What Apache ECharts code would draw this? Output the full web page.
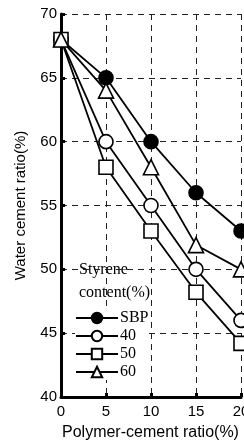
<!DOCTYPE html>
<html>
<head>
<meta charset="utf-8">
<script src="https://cdn.jsdelivr.net/npm/echarts@6/dist/echarts.min.js"></script>
<style>
  html, body { margin: 0; padding: 0; background: #fff; }
  #chart { width: 244px; height: 447px; }
</style>
</head>
<body>
<div id="chart"></div>
<script>
// polymer-cement ratio (%)
const ratios = [0, 5, 10, 15, 20];
const sbp = [68, 65, 60, 56, 53];
const s40 = [68, 60, 55, 50, 46];
const s50 = [68, 58, 53, 48.2, 44.2];
const s60 = [68, 64, 58, 51.9, 50];
const yTicks = [40, 45, 50, 55, 60, 65, 70];

function mkSeries(name, vals, symbol, fill) {
  return {
    name: name,
    type: "line",
    data: ratios.map((x, i) => [x, vals[i]]),
    symbol: symbol,
    symbolSize: symbol === "triangle" ? 15 : 14,
    lineStyle: { color: "#000", width: 1.8 },
    itemStyle: { color: fill, borderColor: "#000", borderWidth: 1.6 },
    z: 3
  };
}

const chart = echarts.init(document.getElementById("chart"));
chart.setOption({
  backgroundColor: "#fff",
  animation: false,
  grid: { left: 61, top: 14, right: 3, bottom: 50, outerBoundsMode: "none", containLabel: false },
  xAxis: {
    type: "value",
    min: ratios[0],
    max: ratios[ratios.length - 1],
    interval: 5,
    axisLine: { lineStyle: { color: "#000", width: 3 } },
    axisTick: { inside: true, length: 4, lineStyle: { color: "#000", width: 3 } },
    axisLabel: { color: "#000", fontFamily: "Liberation Sans", fontSize: 15, margin: 7 },
    splitLine: { show: true, lineStyle: { color: "#222", type: [6, 5], width: 1 } }
  },
  yAxis: {
    type: "value",
    min: yTicks[0],
    max: yTicks[yTicks.length - 1],
    interval: 5,
    axisLine: { show: true, lineStyle: { color: "#000", width: 3 } },
    axisTick: { show: true, inside: true, length: 4, lineStyle: { color: "#000", width: 3 } },
    axisLabel: { color: "#000", fontFamily: "Liberation Sans", fontSize: 15, margin: 4 },
    splitLine: { show: true, lineStyle: { color: "#222", type: [6, 5], width: 1 } },
    name: "Water cement ratio(%)",
    nameLocation: "middle",
    nameGap: 33,
    nameTextStyle: { color: "#000", fontFamily: "Liberation Sans", fontSize: 15 }
  },
  legend: {
    orient: "vertical",
    left: 75,
    top: 310,
    itemWidth: 42,
    itemHeight: 13,
    itemGap: 2,
    padding: 0,
    backgroundColor: "#fff",
    textStyle: { color: "#000", fontFamily: "Liberation Serif", fontSize: 16, padding: [0, 0, 0, -3] },
    data: ["SBP", "40", "50", "60"]
  },
  graphic: [
    {
      type: "text",
      left: 79,
      top: 258,
      style: {
        text: "Styrene\ncontent(%)",
        fill: "#000",
        font: "16px 'Liberation Serif'",
        lineHeight: 23,
        backgroundColor: "#fff"
      }
    },
    {
      type: "text",
      left: 62,
      top: 425,
      style: {
        text: "Polymer-cement ratio(%)",
        fill: "#000",
        font: "16px 'Liberation Sans'"
      }
    }
  ],
  series: [
    mkSeries("SBP", sbp, "circle", "#000"),
    mkSeries("40", s40, "circle", "#fff"),
    mkSeries("50", s50, "rect", "#fff"),
    mkSeries("60", s60, "triangle", "#fff")
  ]
});
</script>
</body>
</html>
